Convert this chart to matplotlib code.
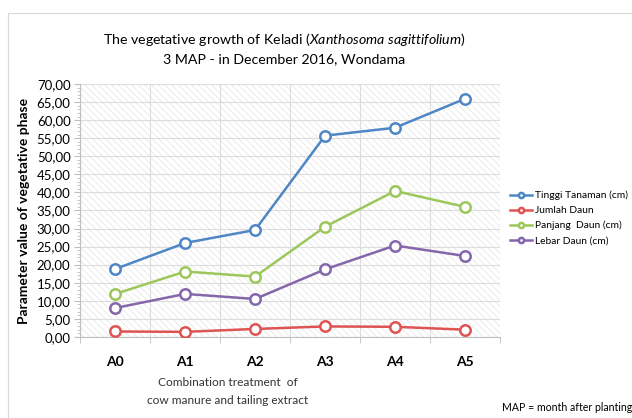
import matplotlib.pyplot as plt
import matplotlib.ticker as ticker
from matplotlib.patches import Rectangle

plt.rcParams['font.family'] = ['Lato', 'DejaVu Sans']
plt.rcParams['mathtext.fontset'] = 'custom'
plt.rcParams['mathtext.it'] = 'Lato:italic'
plt.rcParams['mathtext.rm'] = 'Lato'
plt.rcParams['hatch.linewidth'] = 0.5

# Data
treatments = ['A0', 'A1', 'A2', 'A3', 'A4', 'A5']
tinggi_tanaman = [18.8, 26.0, 29.6, 55.7, 57.9, 65.9]
jumlah_daun = [1.5, 1.4, 2.2, 2.9, 2.8, 2.0]
panjang_daun = [11.9, 18.1, 16.7, 30.5, 40.4, 36.0]
lebar_daun = [8.0, 11.9, 10.5, 18.7, 25.3, 22.4]

series_names = ['Tinggi Tanaman (cm)', 'Jumlah Daun', 'Panjang  Daun (cm)', 'Lebar Daun (cm)']
series_values = [tinggi_tanaman, jumlah_daun, panjang_daun, lebar_daun]
colors = ['#4f86c6', '#de5453', '#9cc75a', '#8466ab']

fig = plt.figure(figsize=(6.32, 4.18), dpi=100)

# Outer chart frame
fig.patches.append(Rectangle((0.013, -0.01), 1.0, 0.98, transform=fig.transFigure,
                             fill=False, edgecolor='#d9d9d9', linewidth=0.8))

ax = fig.add_axes([0.127, 0.194, 0.664, 0.605])
x = list(range(len(treatments)))

# hatched plot background
ax.add_patch(Rectangle((0, 0), 1, 1, transform=ax.transAxes, facecolor='white',
                       edgecolor='#e3e3e3', hatch='\\\\\\\\\\', linewidth=0, zorder=0))

for name, vals, c in zip(series_names, series_values, colors):
    ax.plot(x, vals, color=c, linewidth=1.8, marker='o', markersize=7.5,
            markerfacecolor='white', markeredgewidth=1.8, label=name, zorder=3)

ax.set_xlim(-0.5, len(treatments) - 0.5)
ax.set_ylim(0, 70)
ax.yaxis.set_major_locator(ticker.MultipleLocator(5))
ax.yaxis.set_minor_locator(ticker.MultipleLocator(1))
ax.yaxis.set_major_formatter(ticker.FuncFormatter(lambda v, p: ('%.2f' % v).replace('.', ',')))
ax.set_xticks(x)
ax.set_xticklabels(treatments, fontweight='bold', fontsize=10)
ax.xaxis.set_minor_locator(ticker.FixedLocator([i - 0.5 for i in range(len(treatments) + 1)]))
ax.tick_params(axis='x', which='major', length=0, pad=14)
ax.tick_params(axis='x', which='minor', length=4, color='#bfbfbf')
ax.tick_params(axis='y', which='major', length=4, color='#bfbfbf', labelsize=9.5, pad=3)
ax.tick_params(axis='y', which='minor', length=2, color='#bfbfbf')

ax.grid(True, axis='y', which='major', color='#dcdcdc', linewidth=0.8, zorder=1)
ax.grid(True, axis='x', which='minor', color='#dcdcdc', linewidth=0.8, zorder=1)
ax.set_axisbelow(True)
for side in ['top', 'right']:
    ax.spines[side].set_visible(False)
for side in ['left', 'bottom']:
    ax.spines[side].set_color('#bfbfbf')

ax.set_xlabel('Combination treatment  of\ncow manure and tailing extract', fontsize=8.6,
              color='#333333', linespacing=1.7)
ax.xaxis.set_label_coords(0.352, -0.16, transform=ax.transAxes)
ax.xaxis.label.set_va('top')
ax.set_ylabel('Parameter value of vegetative phase', fontsize=10, fontweight='bold',
              labelpad=5)

fig.text(0.45, 0.905, r'The vegetative growth of Keladi ($\mathit{Xanthosoma\ sagittifolium}$)',
         ha='center', va='center', fontsize=10.2)
fig.text(0.45, 0.858, '3 MAP - in December 2016, Wondama', ha='center', va='center', fontsize=10.2)

ax.legend(loc='center left', bbox_to_anchor=(1.02, 0.47), frameon=False, fontsize=7.4,
          handlelength=2.1, handletextpad=0.3, labelspacing=0.55, markerscale=0.5,
          borderaxespad=0.0, borderpad=0.2)

fig.text(1.0, 0.025, 'MAP = month after planting', ha='right', va='center', fontsize=7.6)

fig.savefig('out.png', dpi=100)
